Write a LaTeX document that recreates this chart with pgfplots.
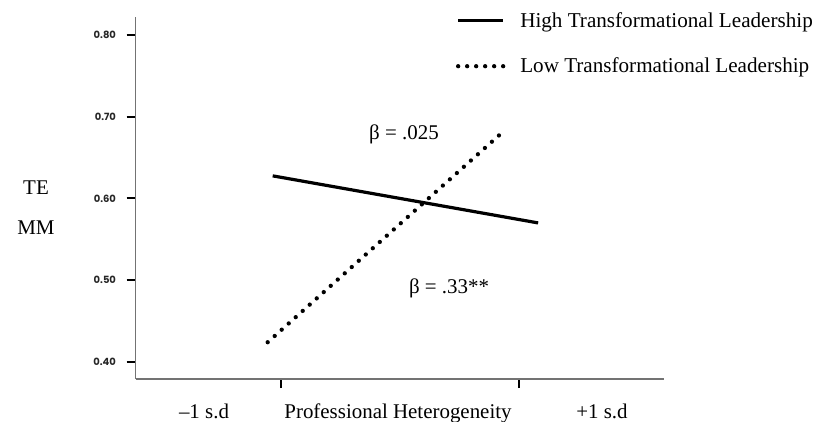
\documentclass[border=0pt]{standalone}
\usepackage{pgfplots}
\pgfplotsset{compat=1.18}
\usepackage{fontspec}
\setmainfont{Liberation Serif}
\newfontfamily\popfont{Poppins}
\begin{document}
\begin{tikzpicture}[x=1bp,y=1bp]
\useasboundingbox (0,0) rectangle (817,421);
\begin{axis}[
  at={(135.5bp,42bp)}, anchor=south west,
  scale only axis, width=528.5bp, height=362bp,
  xmin=-2.218, xmax=2.216, ymin=0.379, ymax=0.822,
  axis lines=left,
  axis line style={-, draw=black!55, line width=1.4bp},
  xtick={-1,1}, xticklabels={,},
  ytick={0.4,0.5,0.6,0.7,0.8},
  yticklabels={0.40,0.50,0.60,0.70,0.80},
  tick align=outside, major tick length=9bp,
  tick style={black, line width=2bp},
  yticklabel style={font=\popfont\bfseries\fontsize{10}{12}\selectfont, text=black!85, xshift=-7bp},
  clip=false,
  legend style={at={(axis description cs:0.6064,1.012)}, anchor=north west,
    draw=none, fill=none, inner sep=0pt, outer sep=0pt,
    font=\fontsize{21.2}{25}\selectfont, row sep=29bp, column sep=15bp,
    nodes={inner sep=0pt}},
  legend cell align=left,
]
\addplot[black, line width=3.2bp,
  legend image code/.code={\path (0bp,0bp) -- (45bp,0bp); \draw[black,line width=3.2bp] (23bp,0bp) -- (45bp,0bp);}]
  coordinates {(-1.067,0.6276) (1.16,0.570)};
\addlegendentry{High Transformational Leadership}
\addplot[black, line width=4.3bp, line cap=round, dash pattern=on 0bp off 9.4bp,
  legend image code/.code={\draw[black,line width=4.3bp,line cap=round,dash pattern=on 0bp off 9bp] (0bp,0bp) -- (45bp,0bp);}]
  coordinates {(-1.109,0.424) (0.846,0.679)};
\addlegendentry{Low Transformational Leadership}
\end{axis}
\begin{scope}[every node/.style={font=\fontsize{21}{25}\selectfont, inner sep=0pt}]
\node[anchor=base] at (36,227) {TE};
\node[anchor=base] at (36,187) {MM};
\node[anchor=base] at (404,282) {β = .025};
\node[anchor=base] at (449,128) {β = .33**};
\node[anchor=base] at (204,3) {–1 s.d};
\node[anchor=base] at (398,3) {Professional Heterogeneity};
\node[anchor=base] at (602,3) {+1 s.d};
\end{scope}
\end{tikzpicture}
\end{document}
